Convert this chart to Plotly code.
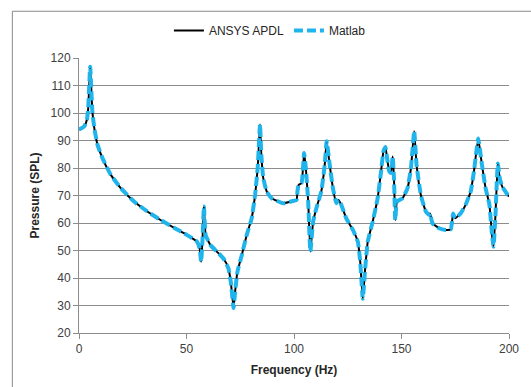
import plotly.graph_objects as go

# Frequency response: sound pressure level vs frequency
freq_hz = [0, 2.5, 3.7, 4.3, 5.2, 6.2, 7.1, 8.6, 10.9, 14.8, 19.4, 25.6, 31.8, 37.9, 44.1,
           50.3, 54.9, 56.1, 56.8, 57.4, 58.1, 58.9, 61.1, 64.1, 67.2, 69.5, 70.6, 71.9,
           72.6, 73.7, 75.7, 78.0, 80.3, 81.9, 83.1, 83.6, 84.2, 84.8, 85.7, 87.3, 89.6,
           95.0, 99.6, 101.2, 101.6, 102.2, 103.5, 104.7, 105.5, 106.6, 107.6, 108.9,
           110.4, 112.7, 114.3, 115.2, 116.6, 118.1, 119.7, 120.7, 122.0, 124.3, 127.4,
           129.7, 130.8, 132.0, 133.1, 134.3, 136.6, 138.9, 140.5, 141.6, 142.5, 143.3,
           144.3, 145.1, 145.9, 146.5, 147.1, 147.9, 150.5, 152.8, 154.4, 155.9, 157.0,
           159.0, 161.3, 162.9, 163.3, 164.4, 167.5, 170.6, 172.9, 174.0, 174.9, 177.5,
           179.8, 182.2, 183.7, 185.7, 187.2, 189.1, 190.9, 192.1, 192.8, 193.7, 194.8,
           195.7, 196.8, 200.0]

spl_ansys = [94.0, 95.2, 97.6, 101.9, 116.8, 100.7, 94.6, 88.5, 83.6, 77.5, 72.7, 67.8,
             64.2, 61.1, 58.3, 55.6, 53.2, 50.8, 45.9, 53.2, 66.0, 55.6, 52.0, 49.6, 47.1,
             43.5, 38.6, 29.1, 35.0, 42.3, 48.3, 55.6, 61.7, 70.2, 80.0, 87.3, 95.8, 84.8,
             76.3, 71.5, 69.0, 67.2, 68.0, 68.4, 71.5, 73.9, 74.5, 85.5, 80.0, 67.8, 49.6,
             60.5, 65.4, 71.5, 81.2, 89.7, 81.2, 72.7, 67.2, 68.4, 66.6, 61.7, 57.5, 53.2,
             45.9, 32.5, 43.5, 53.2, 60.5, 69.0, 78.8, 86.1, 87.6, 83.6, 78.8, 78.2, 84.2,
             76.3, 61.1, 67.8, 69.0, 72.7, 80.0, 93.4, 81.2, 70.2, 64.2, 62.9, 63.5, 59.9,
             58.1, 57.5, 57.7, 63.5, 61.7, 63.5, 66.6, 71.5, 78.8, 90.7, 82.4, 72.7, 66.6,
             55.6, 51.4, 62.9, 81.6, 76.3, 73.3, 69.6]

spl_matlab = list(spl_ansys)

x_ticks = [0, 50, 100, 150, 200]
y_ticks = [20, 30, 40, 50, 60, 70, 80, 90, 100, 110, 120]

FONT = "Liberation Sans"
GRID = "#8c8c8c"

fig = go.Figure()
fig.add_trace(go.Scatter(
    x=freq_hz, y=spl_ansys, name="ANSYS APDL", mode="lines",
    line=dict(color="#000000", width=2, shape="spline", smoothing=0.4),
))
fig.add_trace(go.Scatter(
    x=freq_hz, y=spl_matlab, name="Matlab", mode="lines",
    line=dict(color="#1FB4EC", width=4, dash="9px,4px", shape="spline", smoothing=0.4),
))

# outer chart frame
fig.add_shape(type="rect", xref="paper", yref="paper",
              x0=-0.155, x1=1.1, y0=-0.25, y1=1.17,
              line=dict(color="#8a8a8a", width=1), fillcolor="rgba(0,0,0,0)", layer="below")

fig.update_layout(
    width=531, height=387,
    margin=dict(l=79, r=13, t=58, b=52),
    paper_bgcolor="white", plot_bgcolor="white",
    font=dict(family=FONT, size=12, color="#404040"),
    showlegend=True,
    legend=dict(orientation="h", x=0.444, xanchor="center", y=1.10, yanchor="middle",
                font=dict(family=FONT, size=12, color="#262626"),
                bgcolor="rgba(0,0,0,0)", itemwidth=30, tracegroupgap=0),
    xaxis=dict(range=[0, 200], tickvals=x_ticks, showgrid=False, zeroline=False,
               showline=True, linecolor=GRID, linewidth=1,
               ticks="outside", ticklen=5, tickcolor=GRID,
               tickfont=dict(family=FONT, size=12, color="#404040"),
               title=dict(text="<b>Frequency (Hz)</b>", standoff=10,
                          font=dict(family=FONT, size=12, color="#262626"))),
    yaxis=dict(range=[20, 120], tickvals=y_ticks, showgrid=True, gridcolor=GRID, gridwidth=1,
               zeroline=False, showline=True, linecolor=GRID, linewidth=1,
               ticks="outside", ticklen=5, tickcolor=GRID,
               tickfont=dict(family=FONT, size=12, color="#404040"),
               title=dict(text="<b>Pressure (SPL)</b>", standoff=8,
                          font=dict(family=FONT, size=12, color="#262626"))),
)

fig.write_html("out.html")
